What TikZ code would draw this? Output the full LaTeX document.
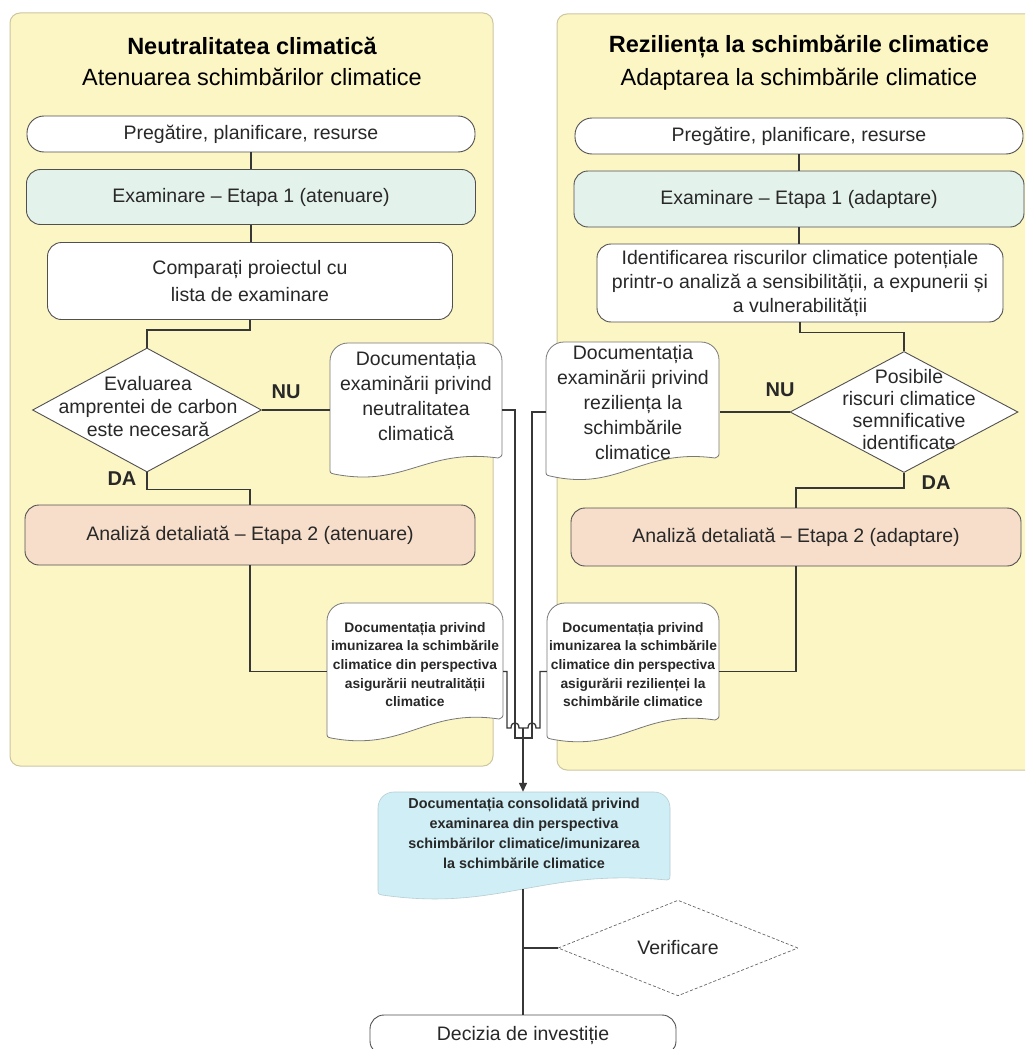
\documentclass[tikz,border=0pt]{standalone}
\usepackage{fontspec}
\setmainfont{Liberation Sans}
\usetikzlibrary{arrows.meta,shapes.geometric,calc}
\definecolor{panelfill}{RGB}{252,246,196}
\definecolor{paneldraw}{RGB}{205,198,160}
\definecolor{examfill}{RGB}{228,242,236}
\definecolor{anafill}{RGB}{247,222,202}
\definecolor{consfill}{RGB}{207,238,246}
\definecolor{boxline}{RGB}{80,80,80}
\definecolor{docline}{RGB}{120,120,120}
\definecolor{conncol}{RGB}{55,55,55}
\definecolor{txt}{RGB}{40,40,40}
\begin{document}
\begin{tikzpicture}[x=1pt,y=-1pt,
  panel/.style={fill=panelfill,draw=paneldraw,line width=1pt,rounded corners=10pt},
  box/.style={draw=boxline,line width=0.9pt,rounded corners=14pt,align=center,inner sep=0pt,text=txt,font=\fontsize{19.5}{24}\selectfont},
  dia/.style={diamond,draw=boxline,line width=0.9pt,fill=white,inner sep=0pt},
  dtext/.style={align=center,inner sep=0pt,text=txt,font=\fontsize{19.5}{23}\selectfont},
  doctext/.style={align=center,inner sep=0pt,text=txt,font=\fontsize{19.5}{25}\selectfont},
  smalltext/.style={align=center,inner sep=0pt,text=txt,font=\bfseries\fontsize{13.8}{18.7}\selectfont},
  constext/.style={align=center,inner sep=0pt,text=txt,font=\bfseries\fontsize{14.4}{20}\selectfont},
  docshape/.style={draw=docline,line width=0.8pt},
  title/.style={inner sep=0pt,text=black,font=\bfseries\fontsize{23.5}{28}\selectfont},
  subtitle/.style={inner sep=0pt,text=black,font=\fontsize{23.5}{28}\selectfont},
  lbl/.style={inner sep=0pt,text=txt,font=\bfseries\fontsize{20}{24}\selectfont},
  conn/.style={draw=conncol,line width=1.3pt}
]
\clip (0,0) rectangle (1025,1049);
\fill[white] (0,0) rectangle (1025,1049);

% panels
\path[panel] (10,13) rectangle (493,766);
\path[panel] (557,14) rectangle (1045,770);

% titles
\node[title] (t1a) at (252,46) {Neutralitatea climatică};
\node[subtitle] (t1b) at (252,77) {Atenuarea schimbărilor climatice};
\node[title] (t2a) at (799,47) {Reziliența la schimbările climatice};
\node[subtitle] (t2b) at (799,79) {Adaptarea la schimbările climatice};

% left column boxes
\node[box,fill=white,minimum width=448pt,minimum height=36pt,rounded corners=17pt] (prep1) at (251,134) {Pregătire, planificare, resurse};
\node[box,fill=examfill,minimum width=449pt,minimum height=55pt] (exam1) at (251,197) {Examinare – Etapa 1 (atenuare)};
\node[box,fill=white,minimum width=405pt,minimum height=77pt,font=\fontsize{19.5}{27}\selectfont] (comp1) at (250,281) {Comparați proiectul cu\\lista de examinare};
\node[dia,minimum width=229pt,minimum height=124pt] (d1) at (147,410) {};
\node[dtext] (d1t) at (148,407) {Evaluarea\\amprentei de carbon\\este necesară};
\node[box,fill=anafill,minimum width=450pt,minimum height=60pt] (ana1) at (250,535) {Analiză detaliată – Etapa 2 (atenuare)};
\node[lbl] (nu1) at (286,392) {NU};
\node[lbl] (da1) at (122,479) {DA};

% right column boxes
\node[box,fill=white,minimum width=448pt,minimum height=36pt,rounded corners=17pt] (prep2) at (799,136) {Pregătire, planificare, resurse};
\node[box,fill=examfill,minimum width=450pt,minimum height=56pt] (exam2) at (799,199) {Examinare – Etapa 1 (adaptare)};
\node[box,fill=white,minimum width=406pt,minimum height=78pt,font=\fontsize{19.5}{24}\selectfont] (ident) at (800,283) {Identificarea riscurilor climatice potențiale\\printr-o analiză a sensibilității, a expunerii și\\a vulnerabilității};
\node[dia,minimum width=228pt,minimum height=121pt] (d2) at (904,412) {};
\node[dtext,font=\fontsize{19.5}{22}\selectfont] (d2t) at (909,410) {Posibile\\riscuri climatice\\semnificative\\identificate};
\node[box,fill=anafill,minimum width=450pt,minimum height=58pt] (ana2) at (796,537) {Analiză detaliată – Etapa 2 (adaptare)};
\node[lbl] (nu2) at (780,390) {NU};
\node[lbl] (da2) at (936,483) {DA};

% document shapes
\path[docshape,fill=white] (330,468) -- (330,361) .. controls (330,351) and (338,343) .. (348,343) -- (484,343) .. controls (494,343) and (502,351) .. (502,361) -- (502,452) .. controls (502,456) .. (498,458) .. controls (425,448) and (405,488) .. (334,474) .. controls (330,473) .. (330,468) -- cycle;
\node[doctext,minimum width=172pt,minimum height=106pt] (doc1) at (416,396) {Documentația\\examinării privind\\neutralitatea\\climatică};

\path[docshape,fill=white] (546,470) -- (546,360) .. controls (546,350) and (554,342) .. (564,342) -- (701,342) .. controls (711,342) and (719,350) .. (719,360) -- (719,452) .. controls (719,456) .. (715,458) .. controls (640,448) and (620,492) .. (550,476) .. controls (546,475) .. (546,470) -- cycle;
\node[doctext,minimum width=173pt,minimum height=122pt] (doc2) at (633,403) {Documentația\\examinării privind\\reziliența la\\schimbările\\climatice};

\path[docshape,fill=white] (327,732) -- (327,621) .. controls (327,611) and (335,603) .. (345,603) -- (485,603) .. controls (495,603) and (503,611) .. (503,621) -- (503,713) .. controls (503,717) .. (499,719) .. controls (425,708) and (405,752) .. (331,738) .. controls (327,737) .. (327,732) -- cycle;
\node[smalltext,minimum width=176pt,minimum height=123pt] (doc3) at (415,664.5) {Documentația privind\\imunizarea la schimbările\\climatice din perspectiva\\asigurării neutralității\\climatice};

\path[docshape,fill=white] (547,733) -- (547,621) .. controls (547,611) and (555,603) .. (565,603) -- (701,603) .. controls (711,603) and (719,611) .. (719,621) -- (719,714) .. controls (719,718) .. (715,720) .. controls (642,709) and (622,753) .. (551,739) .. controls (547,738) .. (547,733) -- cycle;
\node[smalltext,minimum width=172pt,minimum height=123pt] (doc4) at (633,664.5) {Documentația privind\\imunizarea la schimbările\\climatice din perspectiva\\asigurării rezilienței la\\schimbările climatice};

\path[fill=consfill,draw=consfill!70!gray,line width=0.6pt] (378,889) -- (378,808) .. controls (378,799) and (385,792) .. (394,792) -- (654,792) .. controls (663,792) and (670,799) .. (670,808) -- (670,876) .. controls (670,879) .. (667,880) .. controls (540,868) and (500,912) .. (382,895) .. controls (378,894) .. (378,889) -- cycle;
\node[constext,minimum width=292pt,minimum height=82pt] (cons) at (524,833) {Documentația consolidată privind\\examinarea din perspectiva\\schimbărilor climatice/imunizarea\\la schimbările climatice};

% bottom nodes
\node[dia,dashed,dash pattern=on 3pt off 2pt,draw=black!60,line width=0.7pt,minimum width=240pt,minimum height=88pt,font=\fontsize{19.5}{24}\selectfont,text=txt] (ver) at (678,948) {Verificare};
\node[box,fill=white,minimum width=306pt,minimum height=40pt,rounded corners=14pt] (dec) at (523,1035) {Decizia de investiție};

% left connectors
\draw[conn] (prep1.south) -- (exam1.north);
\draw[conn] (exam1.south) -- (exam1.south |- comp1.north);
\draw[conn] (comp1.south) -- ++(0,10) -| (d1.north);
\draw[conn] (d1.east) -- (d1.east -| doc1.west);
\draw[conn] (d1.south) -- ++(0,17) -| (ana1.north);
\draw[conn] (ana1.south) |- ($(doc3.west)+(0,7)$);

% right connectors
\draw[conn] (prep2.south) -- (exam2.north);
\draw[conn] (exam2.south) -- (exam2.south |- ident.north);
\draw[conn] (ident.south) -- ++(0,10) -| (d2.north);
\draw[conn] (d2.west) -- (d2.west -| doc2.east);
\draw[conn] (d2.south) -- ++(0,15) -| (ana2.north);
\draw[conn] (ana2.south) |- ($(doc4.east)+(0,7)$);

% central merge
\coordinate (jin) at (523,738);
\coordinate (jout) at (523,728);
\draw[conn] (doc1.east |- d1.east) -- (515,410) -- (515,738) -- (jin);
\draw[conn] (doc2.west |- d2.west) -- (532,412) -- (532,738) -- (jin);
\draw[conn] ($(doc3.east)+(0,7)$) -- (507,671.5) -- (507,728) -- (511,728) .. controls (511,721) and (519,721) .. (519,728) -- (jout);
\draw[conn] ($(doc4.west)+(0,7)$) -- (540,671.5) -- (540,728) -- (536,728) .. controls (536,721) and (528,721) .. (528,728) -- (jout);
\draw[conn,-{Triangle[length=9pt,width=8pt]}] (jout) -- (jout |- cons.north);

% bottom trunk
\coordinate (consb) at (523,889);
\draw[conn] (consb) -- (dec.north);
\draw[conn] (dec.north |- ver.west) -- (ver.west);
\end{tikzpicture}
\end{document}
